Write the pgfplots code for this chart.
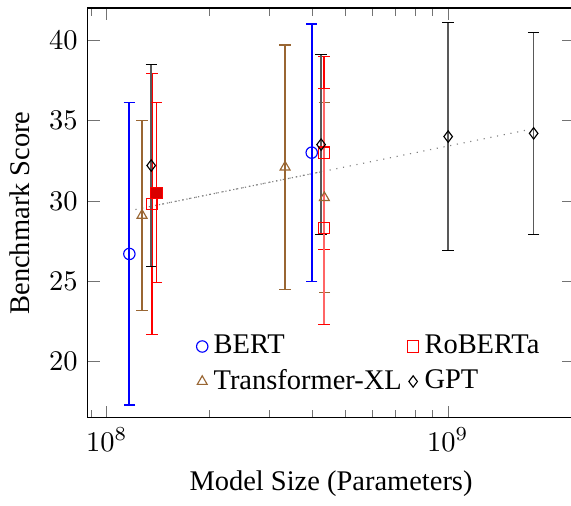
\documentclass[border=0pt]{standalone}
\usepackage{fontspec}
\setmainfont{Liberation Serif}
\usepackage{pgfplots}
\pgfplotsset{compat=1.18}
\definecolor{txl}{rgb}{0.6,0.4,0.2}
\begin{document}
\begin{tikzpicture}
\begin{axis}[
  scale only axis, width=171pt, height=144pt,
  xmode=log, xmin=8.79e7, xmax=2.35e9,
  ymin=16.5, ymax=42,
  ytick={20,25,30,35,40},
  xlabel={Model Size (Parameters)},
  ylabel={Benchmark Score},
  tick style={black!55},
  legend columns=2,
  legend cell align=left,
  legend style={draw=none, fill=none, at={(0.205,0.03)}, anchor=south west,
    /tikz/every even column/.style={column sep=0pt}},
  error bars/y dir=both, error bars/y explicit,
]
% trend line
\addplot[gray, dotted, forget plot] coordinates {(1.16e8,29.38) (1.717e9,34.42)};
\addplot[gray, densely dotted, forget plot] coordinates {(1.35e8,29.66) (4.3e8,31.83)};
% BERT
\addplot[blue, only marks, mark=o, error bars/error bar style={draw=blue, line width=0.65pt}]
  coordinates {(1.165e8,26.7) +- (0,9.4) (3.99e8,33.0) +- (0,8.0)};
\addlegendentry{BERT}
% RoBERTa
\addplot[red, only marks, mark=square, error bars/error bar style={draw=red, line width=0.5pt}]
  coordinates {(1.358e8,29.8) +- (0,8.1) (4.33e8,33.0) +- (0,6.0)};
\addlegendentry{RoBERTa}
% Transformer-XL
\addplot[txl, only marks, mark=triangle, error bars/error bar style={draw=txl, line width=0.5pt}]
  coordinates {(1.269e8,29.1) +- (0,5.9) (3.333e8,32.1) +- (0,7.6) (4.345e8,30.2) +- (0,5.9)};
\addlegendentry{Transformer-XL}
% GPT
\addplot[black, only marks, mark=diamond, error bars/error bar style={draw=black!65, line width=0.6pt}]
  coordinates {(1.35e8,32.2) +- (0,6.3) (4.25e8,33.5) +- (0,5.6) (1.002e9,34.0) +- (0,7.1) (1.784e9,34.2) +- (0,6.3)};
\addlegendentry{GPT}
% extra RoBERTa runs
\addplot[red, only marks, mark=square*, mark options={fill=red!85!black}, error bars/error bar style={draw=red, line width=0.5pt}, forget plot]
  coordinates {(1.399e8,30.5) +- (0,5.6)};
\addplot[red, only marks, mark=square, error bars/error bar style={draw=red!60, line width=0.5pt}, forget plot]
  coordinates {(4.33e8,28.3) += (0,8.7) -= (0,6.0)};
\end{axis}
\coordinate (SW) at (current bounding box.south west);
\pgfresetboundingbox
\useasboundingbox (SW) rectangle ([xshift=-1.2pt,yshift=2.8pt]current axis.north east);
\end{tikzpicture}
\end{document}
